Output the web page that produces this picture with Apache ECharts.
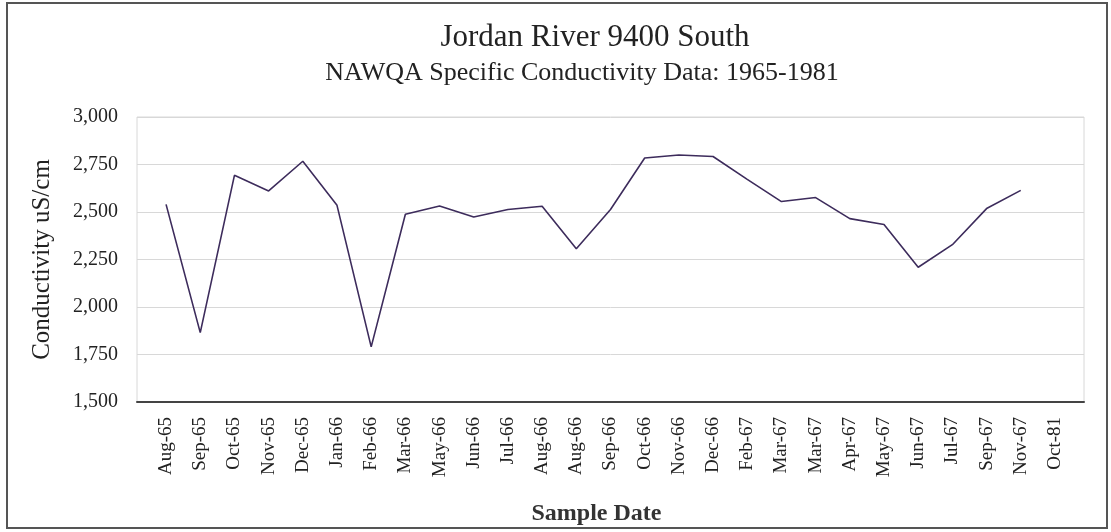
<!DOCTYPE html>
<html>
<head>
<meta charset="utf-8">
<script src="https://cdn.jsdelivr.net/npm/echarts@6/dist/echarts.min.js"></script>
<style>html,body{margin:0;padding:0;background:#fff;}#c{width:1111px;height:532px;}</style>
</head>
<body>
<div id="c"></div>
<script>
const categories = ["Aug-65","Sep-65","Oct-65","Nov-65","Dec-65","Jan-66","Feb-66","Mar-66","May-66","Jun-66","Jul-66","Aug-66","Aug-66","Sep-66","Oct-66","Nov-66","Dec-66","Feb-67","Mar-67","Mar-67","Apr-67","May-67","Jun-67","Jul-67","Sep-67","Nov-67","Oct-81"];
const conductivity = [2540,1865,2693,2611,2767,2535,1790,2488,2532,2474,2513,2530,2307,2513,2784,2800,2792,2672,2555,2576,2465,2434,2209,2328,2518,2614,null];
const yTicks = [1500,1750,2000,2250,2500,2750,3000];

const FONT = "'Liberation Serif', 'DejaVu Serif', serif";
const chart = echarts.init(document.getElementById('c'), null, {renderer:'canvas'});
const idx = categories.map((_, i) => i);
chart.setOption({
  animation: false,
  backgroundColor: '#fff',
  graphic: [{
    type: 'rect', shape: {x: 7, y: 3, width: 1100, height: 525},
    style: {fill: 'none', stroke: '#555', lineWidth: 2}, silent: true
  },{
    type: 'text', x: 595, y: 53, silent: true,
    style: {text: 'Jordan River 9400 South', font: "normal 31px 'Liberation Serif', serif",
      fill: '#222', textAlign: 'center', textVerticalAlign: 'bottom'}
  },{
    type: 'text', x: 582, y: 86, silent: true,
    style: {text: 'NAWQA Specific Conductivity Data: 1965-1981', font: "normal 26px 'Liberation Serif', serif",
      fill: '#222', textAlign: 'center', textVerticalAlign: 'bottom'}
  }],
  grid: {left: 137, right: 27, top: 117, bottom: 130, show: true, borderColor: '#d8d8d8', borderWidth: 1},
  xAxis: {
    type: 'value', min: -0.85, max: 26.85,
    name: 'Sample Date', nameLocation: 'middle', nameGap: 100,
    nameTextStyle: {fontFamily: FONT, fontSize: 24, fontWeight: 'bold', color: '#333', padding: [0, 28, 0, 0]},
    axisLine: {show: true, onZero: false, lineStyle: {color: '#444', width: 2}},
    axisTick: {show: false},
    splitLine: {show: false},
    axisLabel: {
      customValues: idx, rotate: 90, margin: 15,
      fontFamily: FONT, fontSize: 19, color: '#222',
      formatter: v => categories[Math.round(v)]
    }
  },
  yAxis: {
    type: 'value', min: 1500, max: 3000, interval: 250,
    name: 'Conductivity uS/cm', nameLocation: 'middle', nameGap: 82, nameRotate: 90,
    nameTextStyle: {fontFamily: FONT, fontSize: 25, color: '#222'},
    axisLine: {show: false}, axisTick: {show: false},
    splitLine: {lineStyle: {color: '#d8d8d8', width: 1}},
    axisLabel: {
      fontFamily: FONT, fontSize: 20, color: '#222', margin: 19,
      formatter: v => v.toLocaleString('en-US')
    }
  },
  series: [{
    type: 'line',
    data: conductivity.map((v, i) => [i, v]),
    showSymbol: false, symbol: 'none',
    lineStyle: {color: '#3d2c5c', width: 1.6},
    connectNulls: false
  }]
});
</script>
</body>
</html>
